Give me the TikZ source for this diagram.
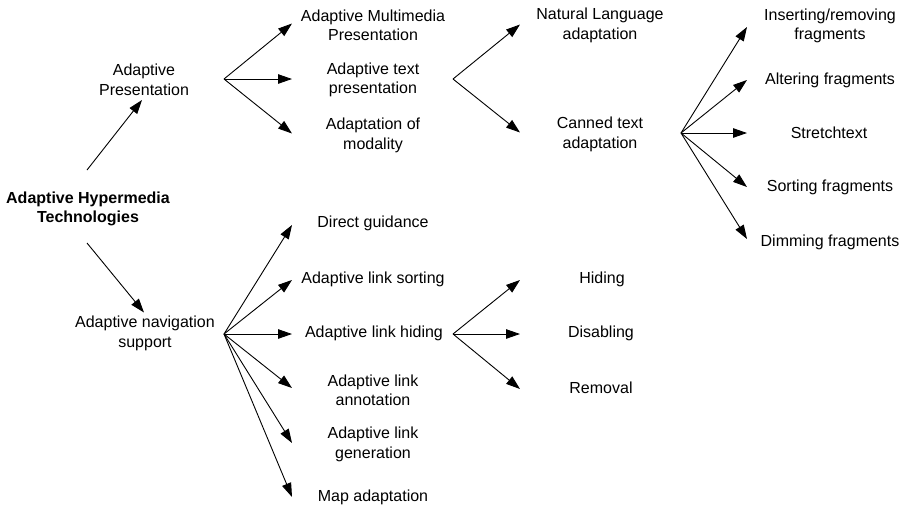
\documentclass[tikz,border=0pt]{standalone}
\usepackage{fontspec}
\setmainfont{Liberation Sans}
\usetikzlibrary{arrows.meta}
\begin{document}
\begin{tikzpicture}[x=1pt,y=-1pt,
  lbl/.style={align=center, font=\fontsize{16}{19.5}\selectfont, inner sep=0pt},
  rootlbl/.style={lbl, font=\fontsize{16}{19.5}\selectfont\bfseries},
  arr/.style={-{Triangle[length=14pt,width=9.5pt]}, line width=0.9pt}]
\useasboundingbox (0,0) rectangle (905,509);

% root
\node[rootlbl] (root) at (88,209) {Adaptive Hypermedia\\Technologies};

% first level
\node[lbl] (ap)  at (144,80)    {Adaptive\\Presentation};
\node[lbl] (ans) at (145,333.5) {Adaptive navigation\\support};

% presentation branch
\node[lbl] (amp) at (373,25.5)  {Adaptive Multimedia\\Presentation};
\node[lbl] (atp) at (373,80)    {Adaptive text\\presentation};
\node[lbl] (aom) at (373,135.5) {Adaptation of\\modality};
\node[lbl] (nla) at (600,25.5)  {Natural Language\\adaptation};
\node[lbl] (cta) at (600,134.5) {Canned text\\adaptation};
\node[lbl] (irf) at (830,26)    {Inserting/removing\\fragments};
\node[lbl] (alf) at (830,80)    {Altering fragments};
\node[lbl] (str) at (829,133)   {Stretchtext};
\node[lbl] (sof) at (830,187)   {Sorting fragments};
\node[lbl] (dif) at (830,242)   {Dimming fragments};

% navigation branch
\node[lbl] (dg)  at (373,223)   {Direct guidance};
\node[lbl] (als) at (373,279)   {Adaptive link sorting};
\node[lbl] (alh) at (374,333)   {Adaptive link hiding};
\node[lbl] (ala) at (373,390.5) {Adaptive link\\annotation};
\node[lbl] (alg) at (373,444.5) {Adaptive link\\generation};
\node[lbl] (map) at (373,497)   {Map adaptation};
\node[lbl] (hid) at (602,279)   {Hiding};
\node[lbl] (dis) at (601,333)   {Disabling};
\node[lbl] (rem) at (601,388)   {Removal};

% fan origins and tip columns
\coordinate (fAP)  at (224,79);
\coordinate (fATP) at (453,79);
\coordinate (fCT)  at (681,133);
\coordinate (fANS) at (224,334);
\coordinate (fALH) at (453,334);
\coordinate (colA) at (292,0);
\coordinate (colB) at (520,0);
\coordinate (colC) at (747,0);

% root connectors
\draw[arr] ([xshift=-1pt,yshift=39pt]root.center) -- ([xshift=-2pt,yshift=-20pt]ap.center);
\draw[arr] ([xshift=-1pt,yshift=-34pt]root.center) -- ([xshift=-1pt,yshift=21pt]ans.center);

% presentation fans
\draw[arr] (fAP) -- ([yshift=2pt]colA |- amp);
\draw[arr] (fAP) -- ([yshift=1pt]colA |- atp);
\draw[arr] (fAP) -- ([yshift=2pt]colA |- aom);
\draw[arr] (fATP) -- ([yshift=1pt]colB |- nla);
\draw[arr] (fATP) -- ([yshift=2pt]colB |- cta);
\draw[arr] (fCT) -- ([yshift=-1pt]colC |- irf);
\draw[arr] (fCT) -- (colC |- alf);
\draw[arr] (fCT) -- (colC |- str);
\draw[arr] (fCT) -- (colC |- sof);
\draw[arr] (fCT) -- ([yshift=3pt]colC |- dif);

% navigation fans
\draw[arr] (fANS) -- ([yshift=-2pt]colA |- dg);
\draw[arr] (fANS) -- ([yshift=-1pt]colA |- als);
\draw[arr] (fANS) -- ([yshift=-1pt]colA |- alh);
\draw[arr] (fANS) -- ([yshift=2.5pt]colA |- ala);
\draw[arr] (fANS) -- ([yshift=1.5pt]colA |- alg);
\draw[arr] (fANS) -- (colA |- map);
\foreach \t in {hid,dis,rem} \draw[arr] (fALH) -- ([yshift=-1pt]colB |- \t);
\end{tikzpicture}
\end{document}
